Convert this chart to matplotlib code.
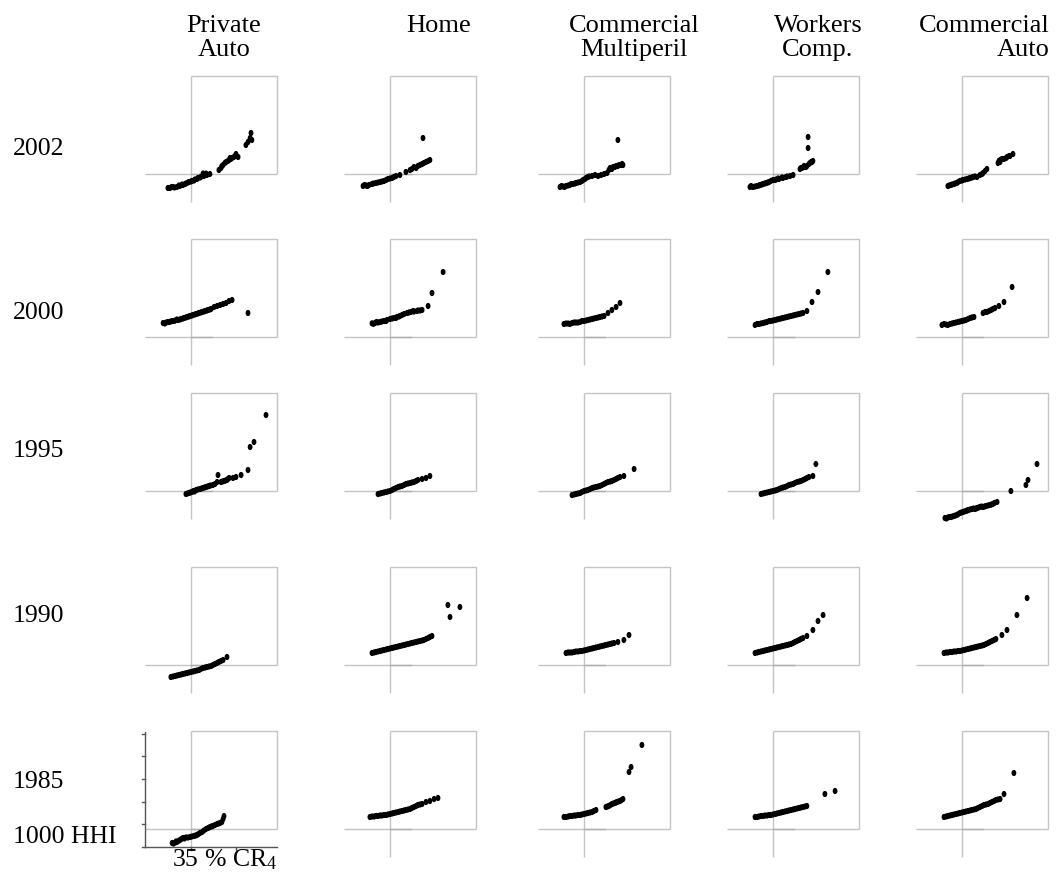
import matplotlib
matplotlib.use('Agg')
import matplotlib.pyplot as plt
import numpy as np
from matplotlib.path import Path

plt.rcParams['font.family'] = ['Liberation Serif', 'DejaVu Serif']
plt.rcParams['mathtext.fontset'] = 'custom'
plt.rcParams['mathtext.rm'] = 'Liberation Serif'
plt.rcParams['mathtext.it'] = 'Liberation Serif:italic'

# ---------------- data (CR4 in %, HHI) ----------------
years = ['2002', '2000', '1995', '1990', '1985']

pa02_cr4 = [27.3, 28.0, 29.0, 30.3, 31.3, 32.3, 33.3, 34.3, 35.3, 36.3, 37.3, 38.3, 39.3, 40.3, 41.3, 39.0, 40.0, 44.3, 45.0, 45.7, 46.7, 47.7, 48.7, 49.7, 50.7, 50.0, 53.3, 54.0, 54.7, 55.0, 55.3,
            28.5, 29.5, 31.0, 32.0, 33.0, 34.0, 35.0, 36.0, 37.0, 38.0, 45.3, 46.3, 47.3, 48.3, 49.3, 48.0]
pa02_hhi = [692, 692, 714, 714, 736, 758, 791, 824, 846, 879, 912, 934, 956, 978, 1000, 1010, 1010, 1088, 1132, 1198, 1264, 1308, 1352, 1396, 1374, 1440, 1638, 1704, 1792, 1902, 1748,
            714, 703, 747, 769, 780, 813, 835, 857, 890, 923, 1176, 1242, 1286, 1330, 1374, 1352]
ho02_cr4 = [26.0, 27.0, 28.0, 29.0, 30.3, 31.7, 33.0, 34.3, 35.7, 37.0, 38.3, 40.3, 41.7, 43.0, 44.3, 45.7, 47.0, 48.3, 46.0,
            26.5, 27.5, 29.5, 31.0, 32.3, 33.7, 35.0, 36.3, 42.3, 43.7, 45.0, 46.3, 47.7]
ho02_hhi = [736, 747, 758, 780, 802, 824, 846, 890, 912, 956, 978, 1044, 1088, 1154, 1176, 1220, 1264, 1308, 1792,
            758, 736, 791, 813, 835, 868, 901, 934, 1110, 1132, 1198, 1242, 1286]
cm02_cr4 = [27.0, 28.0, 29.0, 30.3, 31.3, 32.3, 33.7, 34.7, 35.7, 36.3, 37.7, 38.7, 39.7, 40.7, 41.7, 42.7, 43.7, 44.3, 45.3, 46.3, 47.3, 48.0, 46.3,
            27.5, 28.5, 29.7, 30.7, 32.0, 33.0, 34.3, 35.3, 36.7, 43.3, 44.7, 45.7, 46.7, 47.7]
cm02_hhi = [714, 725, 736, 758, 780, 802, 824, 868, 912, 934, 956, 978, 956, 978, 1000, 1022, 1132, 1110, 1154, 1176, 1198, 1198, 1748,
            736, 714, 747, 780, 791, 813, 846, 890, 945, 1088, 1154, 1176, 1198, 1220]
wc02_cr4 = [27.3, 28.3, 29.7, 30.7, 31.7, 32.7, 33.7, 35.0, 36.0, 37.0, 38.3, 39.3, 40.7, 41.7, 44.0, 44.7, 45.7, 46.3, 47.0, 47.7, 48.3, 46.7, 46.7,
            27.7, 29.0, 30.3, 31.3, 32.3, 33.3, 34.3, 35.7, 36.7, 38.0, 39.7, 44.3, 45.3, 46.0, 47.3, 48.0]
wc02_hhi = [714, 714, 736, 758, 780, 802, 824, 868, 879, 890, 912, 934, 956, 978, 1110, 1132, 1154, 1176, 1220, 1264, 1286, 1572, 1814,
            736, 725, 747, 769, 791, 813, 846, 868, 901, 923, 945, 1132, 1176, 1154, 1242, 1264]
ca02_cr4 = [30.3, 31.3, 32.3, 33.3, 34.3, 35.3, 36.7, 37.7, 38.7, 40.0, 41.0, 42.0, 42.7, 43.3, 47.0, 47.3, 47.7, 49.0, 50.0, 51.0, 52.0,
            30.7, 31.7, 32.7, 33.7, 35.0, 36.0, 37.3, 38.3, 39.3, 41.7, 47.7, 48.3, 49.7, 50.7]
ca02_hhi = [736, 758, 780, 802, 846, 868, 890, 912, 934, 934, 978, 1022, 1066, 1110, 1242, 1286, 1308, 1330, 1374, 1396, 1440,
            747, 769, 791, 824, 857, 879, 901, 923, 945, 1000, 1264, 1330, 1352, 1396]

pa00_cr4 = [25.7, 26.7, 27.7, 28.7, 29.7, 30.7, 31.7, 32.7, 33.7, 34.7, 35.7, 36.7, 37.7, 38.7, 39.7, 40.7, 41.7, 42.7, 43.7, 44.7, 45.7, 46.7, 47.7, 48.7, 54.0,
            26.3, 27.3, 28.3, 29.3, 30.3, 31.3, 32.3, 33.3, 34.3, 35.3, 36.3, 37.3, 38.3, 39.3, 40.3, 41.3]
pa00_hhi = [1308, 1319, 1330, 1352, 1363, 1374, 1396, 1418, 1440, 1462, 1484, 1506, 1528, 1550, 1572, 1594, 1616, 1660, 1682, 1704, 1726, 1748, 1792, 1814, 1528,
            1297, 1330, 1341, 1352, 1385, 1385, 1407, 1429, 1451, 1473, 1495, 1517, 1539, 1561, 1583, 1605]
ho00_cr4 = [29.0, 30.0, 31.0, 31.7, 33.0, 34.0, 35.0, 36.3, 37.3, 38.3, 39.7, 40.7, 42.0, 43.0, 44.0, 45.0, 45.7, 47.7, 49.0, 52.7,
            29.5, 30.5, 32.3, 33.7, 35.7, 37.0, 38.0, 39.0, 41.3, 42.7, 44.3]
ho00_hhi = [1301, 1308, 1319, 1330, 1352, 1374, 1396, 1418, 1440, 1462, 1506, 1528, 1550, 1561, 1572, 1583, 1594, 1682, 1968, 2430,
            1290, 1330, 1341, 1352, 1407, 1418, 1451, 1484, 1539, 1572, 1583]
cm00_cr4 = [28.3, 29.7, 31.0, 32.3, 33.7, 35.0, 36.3, 37.7, 39.0, 40.3, 41.7, 43.0, 44.3, 45.7, 47.0,
            29.0, 30.3, 31.7, 33.0, 34.3, 35.7, 37.0, 38.3, 39.7, 41.0]
cm00_hhi = [1286, 1297, 1308, 1319, 1330, 1352, 1374, 1396, 1418, 1440, 1462, 1528, 1594, 1660, 1748,
            1297, 1286, 1319, 1319, 1352, 1363, 1385, 1407, 1429, 1451]
wc00_cr4 = [29.0, 30.3, 31.7, 33.0, 34.3, 35.7, 37.0, 38.3, 39.7, 41.0, 42.3, 43.7, 45.0, 46.3, 48.0, 50.0, 53.3,
            29.7, 31.0, 32.3, 33.7, 35.0, 36.3, 37.7, 39.0, 40.3, 41.7, 43.0, 44.3]
wc00_hhi = [1264, 1286, 1308, 1330, 1352, 1374, 1396, 1418, 1440, 1462, 1484, 1506, 1528, 1572, 1770, 1990, 2430,
            1286, 1297, 1319, 1352, 1363, 1385, 1407, 1429, 1451, 1473, 1495, 1517]
ca00_cr4 = [28.3, 29.7, 31.0, 32.3, 33.7, 35.0, 36.3, 37.7, 39.0, 42.0, 43.3, 44.7, 46.0, 47.3, 49.0, 51.7,
            29.0, 30.3, 31.7, 33.0, 34.3, 35.7, 37.0, 38.3, 42.7, 44.0, 45.3]
ca00_hhi = [1264, 1275, 1286, 1308, 1330, 1352, 1374, 1418, 1440, 1528, 1550, 1594, 1638, 1682, 1770, 2100,
            1286, 1264, 1297, 1319, 1341, 1363, 1396, 1429, 1550, 1572, 1616]

pa95_cr4 = [33.3, 34.3, 35.3, 36.7, 38.0, 39.0, 40.0, 41.0, 42.3, 43.0, 43.7, 44.0, 45.0, 46.0, 47.0, 47.7, 49.0, 50.0, 51.7, 54.0, 54.7, 56.0, 60.0,
            33.8, 34.8, 35.8, 36.2, 37.3, 38.5, 39.5, 40.5, 41.5, 45.5, 46.5, 47.3]
pa95_hhi = [934, 956, 978, 1022, 1044, 1066, 1088, 1110, 1132, 1154, 1198, 1352, 1198, 1220, 1242, 1286, 1286, 1308, 1352, 1462, 1968, 2078, 2672,
            945, 967, 1000, 989, 1033, 1055, 1077, 1099, 1121, 1209, 1231, 1264]
ho95_cr4 = [31.0, 32.3, 33.7, 35.0, 36.3, 37.7, 39.0, 40.3, 41.7, 43.0, 44.3, 45.7, 47.0, 48.3,
            31.7, 33.0, 34.3, 35.7, 37.0, 38.3, 39.7, 41.0, 42.3, 43.7]
ho95_hhi = [934, 956, 978, 1000, 1044, 1088, 1110, 1154, 1176, 1198, 1242, 1264, 1286, 1330,
            945, 967, 989, 1022, 1066, 1099, 1132, 1165, 1187, 1220]
cm95_cr4 = [31.0, 32.3, 33.7, 35.0, 36.3, 37.7, 39.0, 40.3, 41.7, 43.0, 44.3, 45.7, 47.0, 48.3, 51.7,
            31.7, 33.0, 34.3, 35.7, 37.0, 38.3, 39.7, 41.0, 42.3, 43.7, 45.0, 46.3]
cm95_hhi = [912, 934, 956, 1000, 1022, 1066, 1088, 1110, 1154, 1198, 1220, 1264, 1308, 1330, 1484,
            923, 945, 978, 1011, 1044, 1077, 1099, 1132, 1176, 1209, 1242, 1286]
wc95_cr4 = [31.0, 32.3, 33.7, 35.0, 36.3, 37.7, 39.0, 40.3, 41.7, 43.0, 44.3, 45.7, 47.0, 48.3, 49.3,
            31.7, 33.0, 34.3, 35.7, 37.0, 38.3, 39.7, 41.0, 42.3, 43.7, 45.0, 46.3]
wc95_hhi = [934, 956, 978, 1000, 1022, 1066, 1088, 1132, 1154, 1198, 1220, 1264, 1308, 1330, 1594,
            945, 967, 989, 1011, 1044, 1077, 1110, 1143, 1176, 1209, 1242, 1286]
ca95_cr4 = [29.3, 30.3, 31.3, 32.3, 33.3, 34.3, 35.3, 36.3, 37.0, 38.3, 39.3, 40.0, 41.0, 42.0, 43.0, 44.3, 45.3, 46.7, 51.3, 56.3, 57.0, 60.0,
            29.8, 30.8, 31.8, 32.8, 33.8, 34.8, 35.8, 36.8, 37.7, 38.8, 39.7, 40.5, 41.5, 42.5, 43.7, 44.8, 45.8]
ca95_hhi = [406, 417, 428, 450, 472, 516, 538, 560, 582, 604, 604, 626, 648, 648, 670, 692, 714, 758, 1000, 1132, 1242, 1594,
            395, 428, 439, 461, 494, 527, 549, 571, 593, 615, 615, 637, 659, 659, 681, 703, 736]

pa90_cr4 = [28.3, 29.7, 31.0, 32.3, 33.7, 35.0, 36.3, 37.7, 39.0, 40.3, 41.7, 43.0, 44.3, 45.7, 47.0,
            29.0, 30.3, 31.7, 33.0, 34.3, 35.7, 37.0, 38.3, 39.7, 41.0, 42.3, 43.7, 45.0]
pa90_hhi = [736, 758, 780, 802, 824, 846, 868, 890, 934, 956, 978, 1022, 1066, 1110, 1176,
            747, 769, 791, 813, 835, 857, 879, 912, 945, 967, 1000, 1044, 1088]
ho90_cr4 = [29.0, 30.3, 31.7, 33.0, 34.3, 35.7, 37.0, 38.3, 39.7, 41.0, 42.3, 43.7, 45.0, 46.3, 47.7, 49.0, 55.0, 54.3, 58.3,
            29.7, 31.0, 32.3, 33.7, 35.0, 36.3, 37.7, 39.0, 40.3, 41.7, 43.0, 44.3, 45.7, 47.0, 48.3]
ho90_hhi = [1264, 1286, 1308, 1330, 1352, 1374, 1396, 1418, 1440, 1462, 1484, 1506, 1528, 1550, 1594, 1638, 2056, 2320, 2276,
            1275, 1297, 1319, 1341, 1363, 1385, 1407, 1429, 1451, 1473, 1495, 1517, 1539, 1572, 1616]
cm90_cr4 = [29.0, 30.3, 31.7, 33.0, 34.3, 35.7, 37.0, 38.3, 39.7, 41.0, 42.3, 43.7, 45.0, 46.3, 48.3, 50.0,
            29.7, 31.0, 32.3, 33.7, 35.0, 36.3, 37.7, 39.0, 40.3, 41.7, 43.0, 44.3]
cm90_hhi = [1264, 1275, 1286, 1297, 1308, 1330, 1352, 1374, 1396, 1418, 1440, 1462, 1484, 1506, 1550, 1660,
            1275, 1275, 1297, 1308, 1319, 1341, 1363, 1385, 1407, 1429, 1451, 1473]
wc90_cr4 = [29.0, 30.3, 31.7, 33.0, 34.3, 35.7, 37.0, 38.3, 39.7, 41.0, 42.3, 43.7, 45.0, 46.3, 48.3, 50.0, 51.7,
            29.7, 31.0, 32.3, 33.7, 35.0, 36.3, 37.7, 39.0, 40.3, 41.7, 43.0, 44.3]
wc90_hhi = [1264, 1286, 1308, 1330, 1352, 1374, 1396, 1418, 1440, 1462, 1506, 1550, 1594, 1638, 1770, 1968, 2100,
            1275, 1297, 1319, 1341, 1363, 1385, 1407, 1429, 1451, 1484, 1528, 1572]
ca90_cr4 = [29.0, 30.3, 31.7, 33.0, 34.3, 35.7, 37.0, 38.3, 39.7, 41.0, 42.3, 43.7, 45.0, 46.3, 48.3, 50.0, 53.3, 56.7,
            29.7, 31.0, 32.3, 33.7, 35.0, 36.3, 37.7, 39.0, 40.3, 41.7, 43.0, 44.3, 45.7]
ca90_hhi = [1264, 1275, 1286, 1297, 1308, 1330, 1352, 1374, 1396, 1418, 1440, 1484, 1528, 1572, 1660, 1770, 2100, 2474,
            1275, 1286, 1297, 1308, 1319, 1341, 1363, 1385, 1407, 1429, 1462, 1506, 1550]

pa85_cr4 = [28.7, 29.7, 30.3, 31.3, 32.3, 33.3, 34.7, 36.0, 37.0, 38.0, 38.7, 40.0, 41.3, 42.3, 43.7, 44.7, 45.3, 46.0, 45.7,
            29.2, 30.0, 30.8, 31.8, 32.8, 34.0, 35.3, 36.5, 37.5, 39.3, 40.7, 41.8, 43.0, 44.2]
pa85_hhi = [692, 703, 714, 758, 802, 813, 824, 846, 868, 912, 934, 1000, 1044, 1066, 1110, 1132, 1154, 1286, 1220,
            681, 725, 736, 780, 791, 813, 835, 857, 890, 967, 1022, 1055, 1088, 1121]
ho85_cr4 = [28.3, 29.7, 31.0, 32.3, 33.7, 35.0, 36.3, 37.7, 39.0, 40.3, 41.7, 43.0, 44.3, 45.7, 47.0, 48.3, 49.7, 51.0,
            29.0, 30.3, 31.7, 33.0, 34.3, 35.7, 37.0, 38.3, 39.7, 41.0, 42.3, 43.7, 45.0]
ho85_hhi = [1264, 1275, 1286, 1297, 1308, 1330, 1352, 1374, 1396, 1418, 1440, 1484, 1528, 1550, 1594, 1616, 1660, 1682,
            1275, 1286, 1297, 1308, 1319, 1341, 1363, 1385, 1407, 1429, 1462, 1506, 1539]
cm85_cr4 = [28.3, 29.7, 31.0, 32.3, 33.7, 35.0, 36.3, 37.7, 39.0, 42.3, 43.3, 44.3, 45.3, 46.0, 47.0, 48.0, 50.0, 50.7, 54.3,
            29.0, 30.3, 31.7, 33.0, 34.3, 35.7, 37.0, 38.3, 42.8, 43.8, 44.8, 45.7, 46.5, 47.5]
cm85_hhi = [1264, 1275, 1286, 1297, 1308, 1330, 1352, 1374, 1418, 1484, 1506, 1550, 1572, 1594, 1616, 1660, 2254, 2364, 2848,
            1264, 1286, 1297, 1308, 1319, 1341, 1363, 1396, 1495, 1528, 1561, 1583, 1605, 1638]
wc85_cr4 = [29.0, 30.3, 31.7, 33.0, 34.3, 35.7, 37.0, 38.3, 39.7, 41.0, 42.3, 43.7, 45.0, 46.3, 52.3, 55.7,
            29.7, 31.0, 32.3, 33.7, 35.0, 36.3, 37.7, 39.0, 40.3, 41.7, 43.0, 44.3, 45.7]
wc85_hhi = [1264, 1275, 1286, 1297, 1308, 1330, 1352, 1374, 1396, 1418, 1440, 1462, 1484, 1506, 1770, 1836,
            1264, 1286, 1297, 1308, 1319, 1341, 1363, 1385, 1407, 1429, 1451, 1473, 1495]
ca85_cr4 = [29.0, 30.3, 31.7, 33.0, 34.3, 35.7, 37.0, 38.3, 39.7, 41.0, 42.3, 43.7, 45.0, 46.3, 47.7, 49.0, 52.3,
            29.7, 31.0, 32.3, 33.7, 35.0, 36.3, 37.7, 39.0, 40.3, 41.7, 43.0, 44.3, 45.7, 47.0]
ca85_hhi = [1264, 1286, 1308, 1330, 1352, 1374, 1396, 1418, 1440, 1484, 1528, 1550, 1594, 1638, 1660, 1770, 2232,
            1275, 1297, 1319, 1341, 1363, 1385, 1407, 1429, 1462, 1506, 1539, 1572, 1616, 1649]

panels = {
    (0, 0): (pa02_cr4, pa02_hhi), (0, 1): (ho02_cr4, ho02_hhi), (0, 2): (cm02_cr4, cm02_hhi),
    (0, 3): (wc02_cr4, wc02_hhi), (0, 4): (ca02_cr4, ca02_hhi),
    (1, 0): (pa00_cr4, pa00_hhi), (1, 1): (ho00_cr4, ho00_hhi), (1, 2): (cm00_cr4, cm00_hhi),
    (1, 3): (wc00_cr4, wc00_hhi), (1, 4): (ca00_cr4, ca00_hhi),
    (2, 0): (pa95_cr4, pa95_hhi), (2, 1): (ho95_cr4, ho95_hhi), (2, 2): (cm95_cr4, cm95_hhi),
    (2, 3): (wc95_cr4, wc95_hhi), (2, 4): (ca95_cr4, ca95_hhi),
    (3, 0): (pa90_cr4, pa90_hhi), (3, 1): (ho90_cr4, ho90_hhi), (3, 2): (cm90_cr4, cm90_hhi),
    (3, 3): (wc90_cr4, wc90_hhi), (3, 4): (ca90_cr4, ca90_hhi),
    (4, 0): (pa85_cr4, pa85_hhi), (4, 1): (ho85_cr4, ho85_hhi), (4, 2): (cm85_cr4, cm85_hhi),
    (4, 3): (wc85_cr4, wc85_hhi), (4, 4): (ca85_cr4, ca85_hhi),
}

# ---------------- layout ----------------
W, H = 1056, 876
fig = plt.figure(figsize=(W / 100, H / 100), dpi=100)

box_left_px = [191, 390, 584, 773, 962]
ref_line_px = [174, 337, 491, 665, 829]
LEFT_EXT, BOX_W, BOX_H, BELOW = 46, 86, 98, 28
PX_PER_CR = 3.0
HHI_PER_PX = 22.0
X0 = 35 - LEFT_EXT / PX_PER_CR
X1 = 35 + BOX_W / PX_PER_CR
Y0 = 1000 - BELOW * HHI_PER_PX
Y1 = 1000 + BOX_H * HHI_PER_PX

gray = '#c4c4c4'
t = np.linspace(0, 2 * np.pi, 25)
ellipse = Path(np.column_stack([0.78 * np.cos(t), np.sin(t)]))

for r in range(5):
    for c in range(5):
        bl, ly = box_left_px[c], ref_line_px[r]
        ax = fig.add_axes([(bl - LEFT_EXT) / W, 1 - (ly + BELOW) / H,
                           (LEFT_EXT + BOX_W) / W, (BOX_H + BELOW) / H])
        ax.set_xlim(X0, X1)
        ax.set_ylim(Y0, Y1)
        ax.axis('off')
        special = (r == 4 and c == 0)
        vbottom = 600 if special else Y0
        kw = dict(color=gray, lw=1.0, clip_on=False, solid_capstyle='butt')
        ax.plot([X0, X1], [1000, 1000], **kw)
        ax.plot([35, 35], [vbottom, Y1], **kw)
        ax.plot([35, X1, X1], [Y1, Y1, 1000], **kw)
        ax.plot([35, 42], [1000, 1000], color='#adadad', lw=1.0, clip_on=False)
        if special:
            sk = dict(color='#555555', lw=1.0, clip_on=False)
            ax.plot([X0, X0], [600, 3130], **sk)
            ax.plot([X0, X1], [600, 600], **sk)
            for yt in [600, 1100, 1600, 2100, 2600, 3100]:
                ax.plot([X0 - 1.0, X0], [yt, yt], **sk)
            for xt in [35, 50]:
                ax.plot([xt, xt], [600, 600 - 3 * HHI_PER_PX], **sk)
        cr, hh = panels[(r, c)]
        ax.scatter(cr, hh, marker=ellipse, s=20, color='black', edgecolors='none',
                   clip_on=False, zorder=3)

def ftext(x, y, s, **kw):
    fig.text(x / W, 1 - y / H, s, **kw)

# column headers
hdr = dict(fontsize=19, va='baseline')
ftext(224, 32, 'Private', ha='center', **hdr)
ftext(224, 56, 'Auto', ha='center', **hdr)
ftext(439, 32, 'Home', ha='center', **hdr)
ftext(634, 32, 'Commercial', ha='center', **hdr)
ftext(634, 56, 'Multiperil', ha='center', **hdr)
ftext(818, 32, 'Workers', ha='center', **hdr)
ftext(818, 56, 'Comp.', ha='center', **hdr)
ftext(1050, 32, 'Commercial', ha='right', **hdr)
ftext(1050, 56, 'Auto', ha='right', **hdr)

# row labels
row_base = [155, 319, 457, 622, 788]
for yr, yb in zip(years, row_base):
    ftext(13, yb, yr, fontsize=18.5, ha='left', va='baseline')
ftext(13, 843, '1000 HHI', fontsize=18.5, ha='left', va='baseline')
ftext(172, 866, r'35 % CR$_\mathrm{4}$', fontsize=18.5, ha='left', va='baseline')

fig.savefig('out.png', dpi=100)
